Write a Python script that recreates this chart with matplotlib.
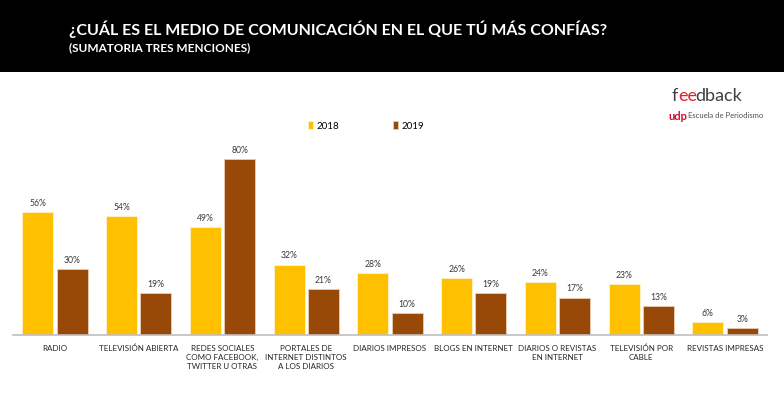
import numpy as np
import matplotlib.pyplot as plt
from matplotlib.patches import Rectangle

categories = [
    "RADIO",
    "TELEVISIÓN ABIERTA",
    "REDES SOCIALES\nCOMO FACEBOOK,\nTWITTER U OTRAS",
    "PORTALES DE\nINTERNET DISTINTOS\nA LOS DIARIOS",
    "DIARIOS IMPRESOS",
    "BLOGS EN INTERNET",
    "DIARIOS O REVISTAS\nEN INTERNET",
    "TELEVISIÓN POR\nCABLE",
    "REVISTAS IMPRESAS",
]
values_2018 = [56, 54, 49, 32, 28, 26, 24, 23, 6]
values_2019 = [30, 19, 80, 21, 10, 19, 17, 13, 3]
series_names = ["2018", "2019"]

color_2018 = "#FFC000"
color_2019 = "#984807"

plt.rcParams['font.family'] = ['Lato', 'DejaVu Sans']

W, H = 784, 399
fig = plt.figure(figsize=(W / 100, H / 100), dpi=100)

# black header band
fig.patches.append(Rectangle((0, 1 - 72 / H), 1, 72 / H, transform=fig.transFigure,
                             facecolor="black", edgecolor="none", zorder=0))
fig.text(69 / W, 1 - 29 / H, "¿CUÁL ES EL MEDIO DE COMUNICACIÓN EN EL QUE TÚ MÁS CONFÍAS?",
         color="white", fontsize=11.5, fontweight="bold", va="center", ha="left")
fig.text(69 / W, 1 - 48 / H, "(SUMATORIA TRES MENCIONES)",
         color="white", fontsize=8.5, fontweight="bold", va="center", ha="left")

# logo: "feedback" with red "ee", pieces placed one after another
renderer = fig.canvas.get_renderer()
xpos = 672
for part, col, kern in [("f", "#404040", 0), ("ee", "#E4202A", 0), ("dback", "#404040", -2)]:
    t = fig.text((xpos + kern) / W, 1 - 96 / H, part, color=col, fontsize=13,
                 va="center", ha="left")
    xpos = t.get_window_extent(renderer).x1
fig.text(668 / W, 1 - 116 / H, "udp", color="#C8102E", fontsize=8, fontweight="bold",
         va="center", ha="left")
fig.text(688 / W, 1 - 116 / H, "Escuela de Periodismo", color="#505050", fontsize=5.5,
         va="center", ha="left")

ax = fig.add_axes([13 / W, (H - 335) / H, (767 - 13) / W, (335 - 140) / H])
x = np.arange(len(categories))
bw = 0.37
off = 0.205
b1 = ax.bar(x - off, values_2018, bw, color=color_2018, edgecolor="#FFF2CC",
            linewidth=0.6, label=series_names[0])
b2 = ax.bar(x + off, values_2019, bw, color=color_2019, edgecolor="#E8CDB5",
            linewidth=0.6, label=series_names[1])

for bars, vals in [(b1, values_2018), (b2, values_2019)]:
    for rect, v in zip(bars, vals):
        ax.annotate(f"{v}%", (rect.get_x() + rect.get_width() / 2, v),
                    xytext=(0, 3), textcoords="offset points", ha="center", va="bottom",
                    fontsize=6.2, color="#3A3A3A")

ax.set_xlim(-0.5, len(categories) - 0.5)
ax.set_ylim(0, 88.6)
ax.set_xticks(x)
ax.set_xticklabels(categories, fontsize=5.8, color="#262626", linespacing=1.35)
ax.tick_params(axis="x", length=0, pad=7)
ax.set_yticks([])
for s in ["top", "right", "left"]:
    ax.spines[s].set_visible(False)
ax.spines["bottom"].set_color("#BFBFBF")
ax.spines["bottom"].set_linewidth(1.2)

# legend
fig.legend(handles=[b1, b2], labels=series_names, loc="center", ncol=2,
           bbox_to_anchor=(366 / W, 1 - 126 / H), frameon=False, fontsize=7,
           handlelength=0.5, handleheight=0.9, columnspacing=5.5, handletextpad=0.4)

fig.savefig("out.png", dpi=100)
